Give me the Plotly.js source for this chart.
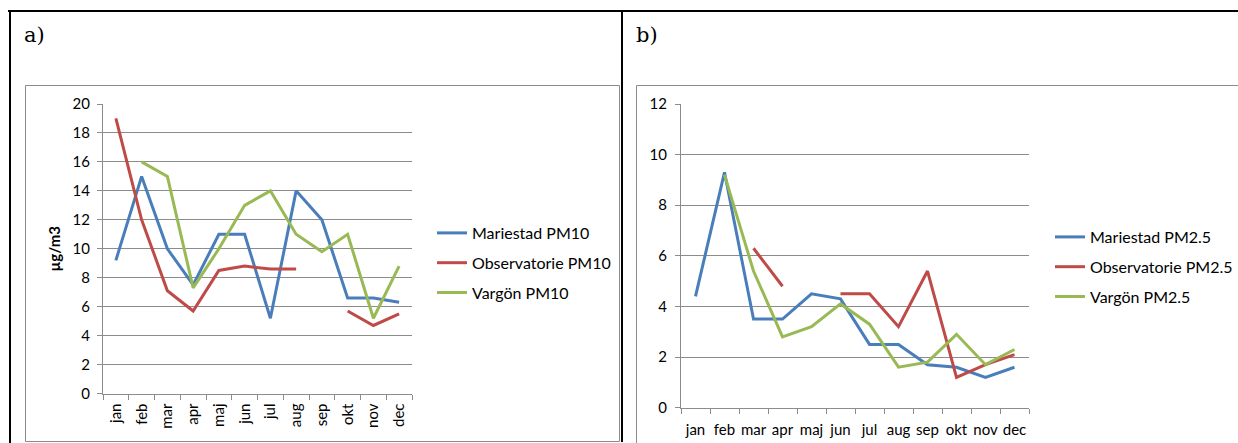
<!DOCTYPE html>
<html>
<head>
<meta charset="utf-8">
<script src="https://cdn.plot.ly/plotly-3.0.1.min.js"></script>
<style>
html,body{margin:0;padding:0;background:#fff;}
#chart{width:1238px;height:443px;}
</style>
</head>
<body>
<div id="chart"></div>
<script>
// ---- data ----
const months = ["jan","feb","mar","apr","maj","jun","jul","aug","sep","okt","nov","dec"];

const mariestadPM10    = [9.2, 15, 10, 7.5, 11, 11, 5.2, 14, 12, 6.6, 6.6, 6.3];
const observatoriePM10 = [19, 12, 7.1, 5.7, 8.5, 8.8, 8.6, 8.6, null, 5.7, 4.7, 5.5];
const vargonPM10       = [null, 16, 15, 7.3, 10, 13, 14, 11, 9.8, 11, 5.2, 8.8];

const mariestadPM25    = [4.4, 9.3, 3.5, 3.5, 4.5, 4.3, 2.5, 2.5, 1.7, 1.6, 1.2, 1.6];
const observatoriePM25 = [null, null, 6.3, 4.8, null, 4.5, 4.5, 3.2, 5.4, 1.2, 1.7, 2.1];
const vargonPM25       = [null, 9.2, 5.4, 2.8, 3.2, 4.1, 3.3, 1.6, 1.8, 2.9, 1.7, 2.3];

const namesPM10 = ["Mariestad PM10", "Observatorie PM10", "Vargön PM10"];
const namesPM25 = ["Mariestad PM2.5", "Observatorie PM2.5", "Vargön PM2.5"];
const yTitle = "µg/m3";
const panelA = "a)";
const panelB = "b)";

// ---- styles ----
const colors = ["#4A7EBB", "#BE4B48", "#98B954"];
const W = 1238, H = 443;
const FONT = "Lato, 'Liberation Sans', Arial, sans-serif";
const SERIF = "'DejaVu Serif', 'Liberation Serif', serif";
const px = v => v / W;
const py = v => 1 - v / H;

const seriesA = [mariestadPM10, observatoriePM10, vargonPM10];
const seriesB = [mariestadPM25, observatoriePM25, vargonPM25];

const traces = [];
seriesA.forEach((s, i) => traces.push({
  x: months, y: s, type: "scatter", mode: "lines", name: namesPM10[i],
  line: {color: colors[i], width: 3}, xaxis: "x", yaxis: "y",
  legend: "legend", legendgroup: "a" + i, connectgaps: false, hoverinfo: "skip"
}));
seriesB.forEach((s, i) => traces.push({
  x: months, y: s, type: "scatter", mode: "lines", name: namesPM25[i],
  line: {color: colors[i], width: 3}, xaxis: "x2", yaxis: "y2",
  legend: "legend2", legendgroup: "b" + i, connectgaps: false, hoverinfo: "skip"
}));

const gridC = "#8c8c8c";
const axisFont = {family: FONT, size: 15, color: "#000"};
const legFont = {family: FONT, size: 16, color: "#000"};

const xCommon = {
  type: "category", range: [-0.5, 11.5], showgrid: false, zeroline: false,
  showline: true, linecolor: gridC, linewidth: 1,
  ticks: "outside", tickson: "boundaries", ticklen: 5, tickcolor: gridC,
  tickfont: axisFont, automargin: false, fixedrange: true
};
const yCommon = {
  showgrid: true, gridcolor: gridC, gridwidth: 1, zeroline: false,
  showline: true, linecolor: gridC, linewidth: 1,
  ticks: "outside", ticklen: 5, tickcolor: gridC,
  tickfont: axisFont, automargin: false, fixedrange: true
};

const layout = {
  width: W, height: H,
  margin: {l: 0, r: 0, t: 0, b: 0},
  paper_bgcolor: "#fff", plot_bgcolor: "rgba(0,0,0,0)",
  showlegend: true,
  xaxis: Object.assign({}, xCommon, {domain: [px(103), px(412)], anchor: "y", tickangle: -90, ticklabelstandoff: 3}),
  yaxis: Object.assign({}, yCommon, {domain: [py(393.5), py(104)], anchor: "x", range: [0, 20], dtick: 2, ticklabelstandoff: 4,
    title: {text: yTitle, font: {family: FONT, size: 15, color: "#000", weight: "bold"}, standoff: 8}}),
  xaxis2: Object.assign({}, xCommon, {domain: [px(681), px(1029)], anchor: "y2", tickangle: 0, ticklabelstandoff: 8}),
  yaxis2: Object.assign({}, yCommon, {domain: [py(407.7), py(104)], anchor: "x2", range: [0, 12], dtick: 2, ticklabelstandoff: 5}),
  legend: {x: px(432), y: py(216), xanchor: "left", yanchor: "top", bgcolor: "rgba(0,0,0,0)",
    font: legFont, tracegroupgap: 6, itemwidth: 30},
  legend2: {x: px(1050), y: py(220), xanchor: "left", yanchor: "top", bgcolor: "rgba(0,0,0,0)",
    font: legFont, tracegroupgap: 6, itemwidth: 30},
  shapes: [
    // outer table lines
    {type: "line", xref: "paper", yref: "paper", x0: px(8), x1: 1, y0: py(11), y1: py(11), line: {color: "#000", width: 2}},
    {type: "line", xref: "paper", yref: "paper", x0: px(10), x1: px(10), y0: py(10), y1: 0, line: {color: "#000", width: 2}},
    {type: "line", xref: "paper", yref: "paper", x0: px(622), x1: px(622), y0: py(10), y1: py(442), line: {color: "#000", width: 2}},
    // chart boxes
    {type: "rect", xref: "paper", yref: "paper", x0: px(25.5), x1: px(619.5), y0: py(85.5), y1: py(441.5), line: {color: "#8c8c8c", width: 1}},
    {type: "rect", xref: "paper", yref: "paper", x0: px(636.5), x1: px(1240), y0: py(85.5), y1: py(450), line: {color: "#8c8c8c", width: 1}}
  ],
  annotations: [
    {text: panelA, xref: "paper", yref: "paper", x: px(22), y: py(35), xanchor: "left", yanchor: "middle", showarrow: false,
     font: {family: SERIF, size: 21, color: "#000"}},
    {text: panelB, xref: "paper", yref: "paper", x: px(634), y: py(35), xanchor: "left", yanchor: "middle", showarrow: false,
     font: {family: SERIF, size: 21, color: "#000"}}
  ]
};

Plotly.newPlot("chart", traces, layout, {staticPlot: true, displayModeBar: false});
</script>
</body>
</html>
